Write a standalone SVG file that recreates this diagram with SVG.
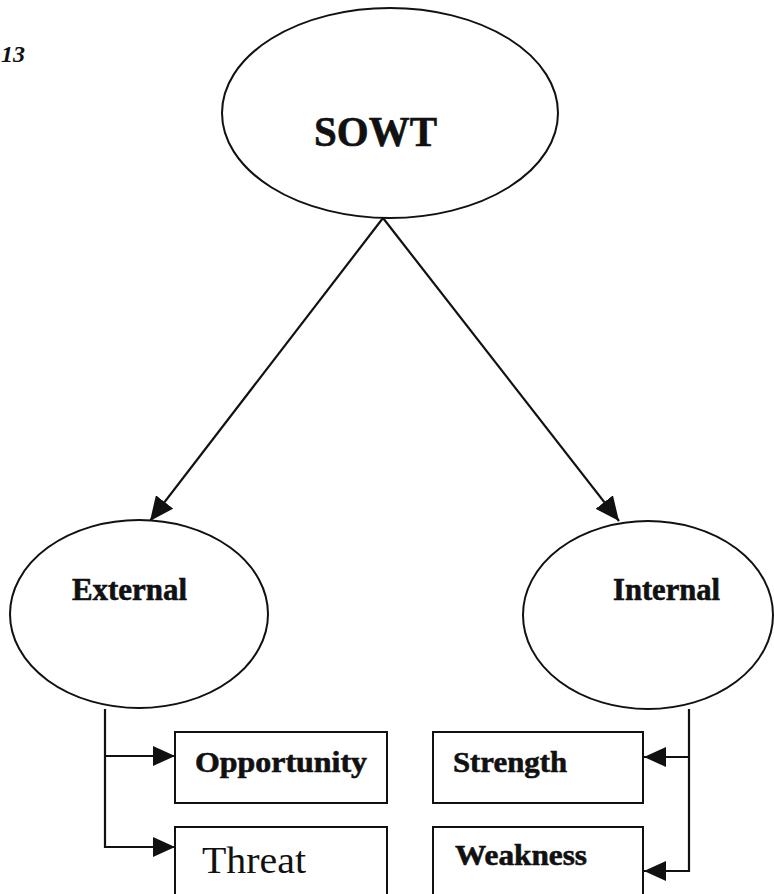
<svg xmlns="http://www.w3.org/2000/svg" width="774" height="894" viewBox="0 0 774 894">
  <defs>
    <marker id="arrow" viewBox="0 0 22 20" refX="22" refY="10" markerWidth="22" markerHeight="20" markerUnits="userSpaceOnUse" orient="auto">
      <path d="M0,0 L22,10 L0,20 Z" fill="#111"/>
    </marker>
    <marker id="arrowBig" viewBox="0 0 24 22" refX="24" refY="11" markerWidth="24" markerHeight="22" markerUnits="userSpaceOnUse" orient="auto">
      <path d="M0,0 L24,11 L0,22 Z" fill="#111"/>
    </marker>
  </defs>
  <style>
    .shape { fill: #fff; stroke: #111; stroke-width: 2; }
    .wire { fill: none; stroke: #111; stroke-width: 2.2; }
    .label { font-family: "Liberation Serif", "Times New Roman", serif; fill: #111; }
    .bold { font-weight: bold; stroke: #111; stroke-width: 0.6; }
  </style>
  <rect width="774" height="894" fill="#fff"/>

  <!-- page number -->
  <text class="label" x="1" y="62" font-size="24" font-style="italic" font-weight="bold">13</text>

  <g id="connectors">
    <line class="wire" x1="383" y1="218" x2="150" y2="521" marker-end="url(#arrowBig)"/>
    <line class="wire" x1="383" y1="218" x2="619" y2="521" marker-end="url(#arrowBig)"/>
    <!-- External branch -->
    <polyline class="wire" points="105,709 105,847 175,847" marker-end="url(#arrow)"/>
    <line class="wire" x1="105" y1="756" x2="175" y2="756" marker-end="url(#arrow)"/>
    <!-- Internal branch -->
    <polyline class="wire" points="689,709 689,871 644,871" marker-end="url(#arrow)"/>
    <line class="wire" x1="689" y1="757" x2="644" y2="757" marker-end="url(#arrow)"/>
  </g>

  <g id="sowt">
    <ellipse class="shape" cx="390" cy="113" rx="168" ry="105"/>
    <text class="label bold" x="314" y="146" font-size="43" textLength="123" lengthAdjust="spacingAndGlyphs">SOWT</text>
  </g>

  <g id="external">
    <ellipse class="shape" cx="139" cy="614" rx="129" ry="94"/>
    <text class="label bold" x="72" y="600" font-size="31" textLength="115" lengthAdjust="spacingAndGlyphs">External</text>
  </g>

  <g id="internal">
    <ellipse class="shape" cx="648" cy="615" rx="125" ry="94"/>
    <text class="label bold" x="613" y="600" font-size="31" textLength="107" lengthAdjust="spacingAndGlyphs">Internal</text>
  </g>

  <g id="opportunity">
    <rect class="shape" x="175" y="732" width="212" height="71"/>
    <text class="label bold" x="195" y="772" font-size="29" textLength="172" lengthAdjust="spacingAndGlyphs">Opportunity</text>
  </g>

  <g id="threat">
    <rect class="shape" x="175" y="827" width="212" height="80"/>
    <text class="label" x="202" y="873" font-size="37" textLength="104" lengthAdjust="spacingAndGlyphs">Threat</text>
  </g>

  <g id="strength">
    <rect class="shape" x="433" y="732" width="210" height="71"/>
    <text class="label bold" x="453" y="772" font-size="30" textLength="114" lengthAdjust="spacingAndGlyphs">Strength</text>
  </g>

  <g id="weakness">
    <rect class="shape" x="433" y="827" width="210" height="80"/>
    <text class="label bold" x="455" y="865" font-size="30" textLength="132" lengthAdjust="spacingAndGlyphs">Weakness</text>
  </g>
</svg>
